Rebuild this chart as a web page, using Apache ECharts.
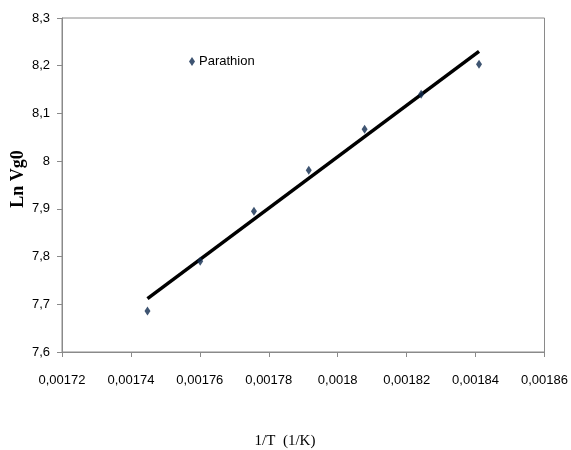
<!DOCTYPE html>
<html>
<head>
<meta charset="utf-8">
<script src="https://cdn.jsdelivr.net/npm/echarts@6/dist/echarts.min.js"></script>
<style>
  html, body { margin: 0; padding: 0; background: #ffffff; }
  #chart { width: 571px; height: 450px; }
</style>
</head>
<body>
<div id="chart"></div>
<script>
// Parathion retention data: 1/T (1/K) against ln Vg0
const invT = [0.0017448, 0.0017601, 0.0017757, 0.0017916, 0.0018078, 0.0018242, 0.0018410];
const lnVg0 = [7.686, 7.790, 7.895, 7.981, 8.067, 8.140, 8.203];

// Linear trend line, drawn between the first and last temperature
const trendX = [0.0017448, 0.0018410];
const trendY = [7.712, 8.230];

const seriesName = 'Parathion';
const xTitle = '1/T  (1/K)';
const yTitle = 'Ln Vg0';

const labelFont = '"Liberation Sans", Arial, sans-serif';
const titleFont = '"Liberation Serif", "DejaVu Serif", serif';
const frameColor = '#8a8a8a';

function commaNumber(v) {
  return String(Number(v.toPrecision(6))).replace('.', ',');
}

const chart = echarts.init(document.getElementById('chart'), null, { renderer: 'canvas' });

chart.setOption({
  animation: false,
  backgroundColor: '#ffffff',
  grid: {
    left: 62, right: 24, top: 18, bottom: 98,
    show: true, borderColor: frameColor, borderWidth: 1, backgroundColor: 'transparent'
  },
  legend: {
    data: [seriesName],
    left: 184, top: 50,
    icon: 'diamond',
    itemWidth: 6, itemHeight: 9, itemGap: 4,
    textStyle: { fontFamily: labelFont, fontSize: 13, color: '#000000', padding: [0, 0, 0, -1] }
  },
  graphic: [
    {
      type: 'text', x: 285, y: 441,
      style: { text: xTitle, font: '15px ' + titleFont, fill: '#000000', align: 'center', verticalAlign: 'middle' }
    },
    {
      type: 'text', x: 18, y: 179, rotation: Math.PI / 2,
      style: { text: yTitle, font: 'bold 18px ' + titleFont, fill: '#000000', align: 'center', verticalAlign: 'middle' }
    }
  ],
  xAxis: {
    type: 'value',
    min: 0.00172, max: 0.00186, interval: 0.00002,
    axisLine: { lineStyle: { color: frameColor, width: 1 } },
    axisTick: { show: true, length: 5, inside: false, lineStyle: { color: frameColor } },
    axisLabel: { fontFamily: labelFont, fontSize: 13, color: '#000000', margin: 22, formatter: commaNumber },
    splitLine: { show: false }
  },
  yAxis: {
    type: 'value',
    min: 7.6, max: 8.3, interval: 0.1,
    axisLine: { show: true, lineStyle: { color: frameColor, width: 1 } },
    axisTick: { show: true, length: 5, inside: false, lineStyle: { color: frameColor } },
    axisLabel: { fontFamily: labelFont, fontSize: 13, color: '#000000', margin: 12, formatter: commaNumber },
    splitLine: { show: false }
  },
  series: [
    {
      name: seriesName,
      type: 'scatter',
      data: invT.map((x, i) => [x, lnVg0[i]]),
      symbol: 'diamond',
      symbolSize: [6, 9],
      itemStyle: { color: '#0f2a4f' },
      z: 3
    },
    {
      name: 'trend',
      type: 'line',
      data: trendX.map((x, i) => [x, trendY[i]]),
      showSymbol: false,
      symbol: 'none',
      lineStyle: { color: '#000000', width: 3.5 },
      silent: true,
      z: 2
    }
  ]
});
</script>
</body>
</html>
